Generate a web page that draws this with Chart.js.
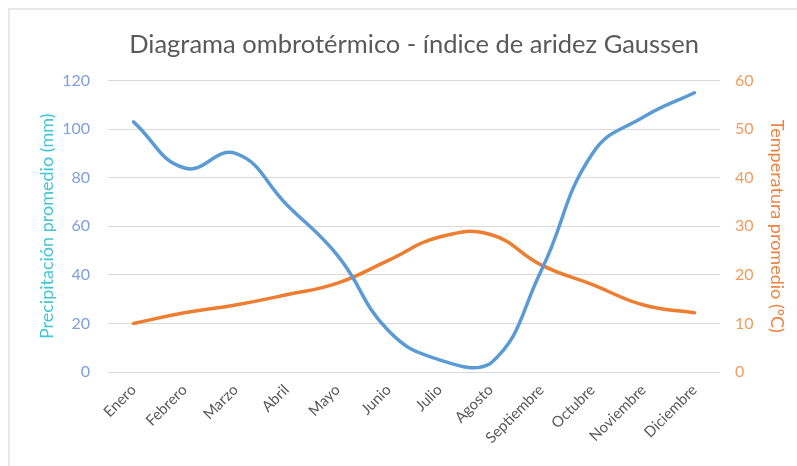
<!DOCTYPE html>
<html>
<head>
<meta charset="utf-8">
<script src="https://cdn.jsdelivr.net/npm/chart.js@4"></script>
<style>
  body { margin: 0; background: #fff; }
  #wrap { position: relative; width: 797px; height: 466px; }
  #frame { position: absolute; left: 8px; top: 8px; right: -4px; bottom: -4px;
           border-top: 2px solid #e8e8e8; border-left: 2px solid #e8e8e8; pointer-events: none; }
</style>
</head>
<body>
<div id="wrap">
  <canvas id="chart" width="797" height="466"></canvas>
  <div id="frame"></div>
</div>
<script>
var meses = ["Enero", "Febrero", "Marzo", "Abril", "Mayo", "Junio", "Julio",
             "Agosto", "Septiembre", "Octubre", "Noviembre", "Diciembre"];
var precipitacion = [103, 84, 90, 69, 48, 17, 5, 3.5, 42, 90, 105, 115];
var temperatura = [10, 12.2, 13.8, 15.9, 18.3, 23, 27.8, 28.3, 22, 18, 13.8, 12.2];
var ticksPrecip = [0, 20, 40, 60, 80, 100, 120];
var ticksTemp = [0, 10, 20, 30, 40, 50, 60];

var fuente = "Lato, 'Open Sans', sans-serif";

function drawChart() {
    const ctx = document.getElementById('chart');

    const options = {
        responsive: false,
        animation: false,
        layout: { padding: 0 },
        plugins: {
            legend: { display: false },
            tooltip: { enabled: false },
            title: {
                display: true,
                fullSize: false,
                text: 'Diagrama ombrotérmico - índice de aridez Gaussen',
                color: '#595959',
                font: { family: fuente, size: 25.5, weight: 'normal' },
                padding: { top: 29, bottom: 21 }
            }
        },
        scales: {
            x: {
                offset: true,
                grid: { display: false },
                border: { display: false },
                ticks: {
                    color: '#595959',
                    font: { family: fuente, size: 15 },
                    minRotation: 45,
                    maxRotation: 45,
                    padding: 1
                },
                afterFit: function(scale) { scale.height = 94; }
            },
            y: {
                position: 'left',
                min: 0,
                max: 120,
                afterBuildTicks: function(scale) {
                    scale.ticks = ticksPrecip.map(v => ({ value: v }));
                },
                grid: { color: '#d9d9d9', lineWidth: 1, drawTicks: false },
                border: { display: false },
                ticks: {
                    color: '#7f9fdb',
                    font: { family: fuente, size: 16 },
                    padding: 18
                },
                title: {
                    display: true,
                    text: 'Precipitación promedio (mm)',
                    color: '#45c6d6',
                    font: { family: fuente, size: 18 },
                    padding: { top: 36, bottom: 0 }
                },
                afterFit: function(scale) { scale.width = 108; }
            },
            y2: {
                position: 'right',
                min: 0,
                max: 60,
                afterBuildTicks: function(scale) {
                    scale.ticks = ticksTemp.map(v => ({ value: v }));
                },
                grid: { display: false, drawTicks: false },
                border: { display: false },
                ticks: {
                    color: '#f29c5e',
                    font: { family: fuente, size: 16 },
                    padding: 15
                },
                title: {
                    display: true,
                    text: 'Temperatura promedio (ºC)',
                    color: '#ee8444',
                    font: { family: fuente, size: 18 },
                    padding: { top: 9, bottom: 0 }
                },
                afterFit: function(scale) { scale.width = 77; }
            }
        }
    };

    new Chart(ctx, {
        type: 'line',
        data: {
            labels: meses,
            datasets: [
                {
                    label: 'Precipitación',
                    data: precipitacion,
                    yAxisID: 'y',
                    borderColor: '#5b9bd5',
                    backgroundColor: '#5b9bd5',
                    borderWidth: 3.5,
                    tension: 0.45,
                    pointRadius: 0,
                    borderCapStyle: 'round'
                },
                {
                    label: 'Temperatura',
                    data: temperatura,
                    yAxisID: 'y2',
                    borderColor: '#ed7d31',
                    backgroundColor: '#ed7d31',
                    borderWidth: 3.5,
                    tension: 0.45,
                    pointRadius: 0,
                    borderCapStyle: 'round'
                }
            ]
        },
        options: options
    });
}

drawChart();
</script>
</body>
</html>
